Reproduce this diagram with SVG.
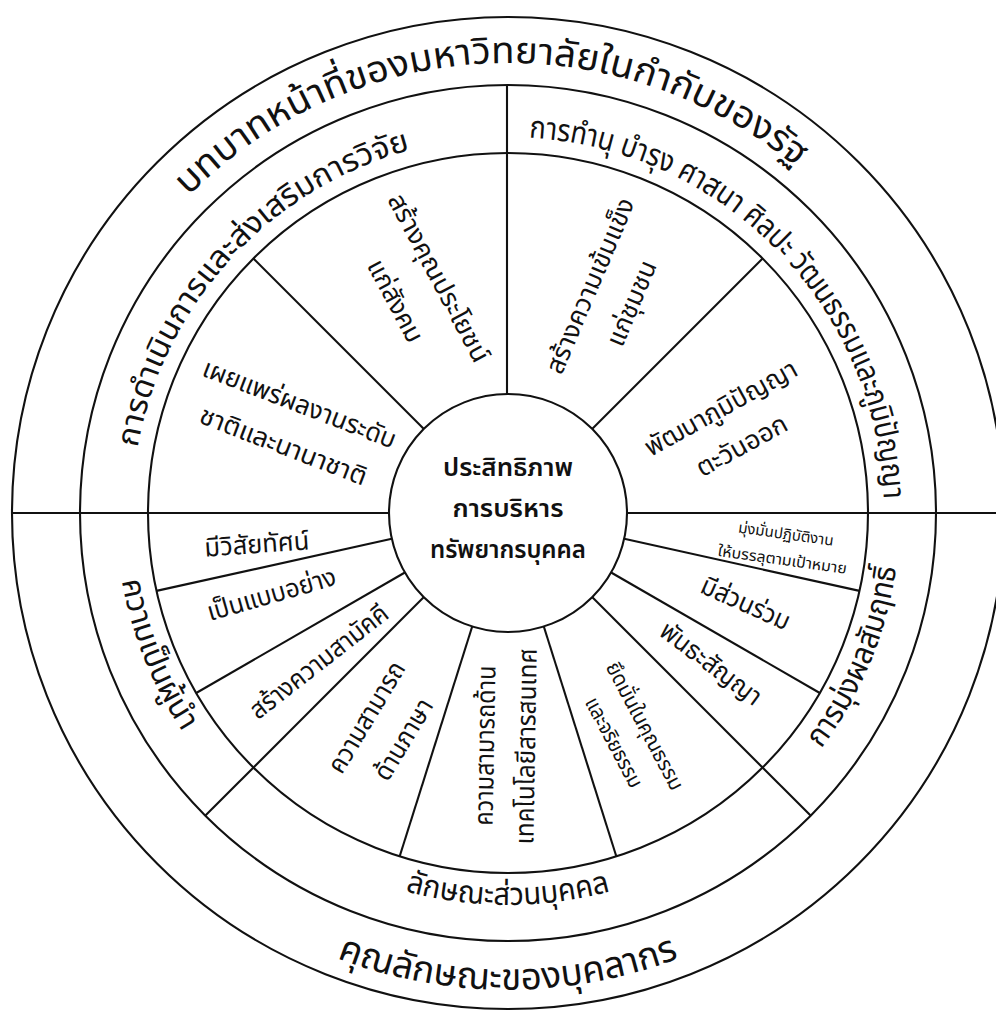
<svg xmlns="http://www.w3.org/2000/svg" width="996" height="1012" viewBox="0 0 996 1012">
<defs>
<style>
.ln{stroke:#111;stroke-width:2.1;fill:none}
text{font-family:'Noto Sans Thai','Noto Sans Thai UI','Noto Sans','DejaVu Sans',sans-serif;fill:#111}
.band1{font-size:37px;font-weight:370}
.band2{font-size:31px;font-weight:370}
.sec{font-size:26px;text-anchor:middle}
.small{font-size:15px;text-anchor:middle}
.mid{font-size:25px;font-weight:600;text-anchor:middle}
</style>
<path id="pOuterTop" d="M 58 513 A 450 450 0 0 1 958 513"/>
<path id="pOuterBot" d="M 31 513 A 477 477 0 0 0 985 513"/>
<path id="pMidTop" d="M 132 513 A 376 376 0 0 1 884 513"/>
<path id="pMidBot" d="M 116 513 A 392 392 0 0 0 900 513"/>
</defs>
<rect width="996" height="1012" fill="#fff"/>
<g id="rings">
<circle class="ln" cx="508" cy="513" r="496"/>
<circle class="ln" cx="508" cy="513" r="428"/>
<circle class="ln" cx="508" cy="513" r="360"/>
</g>
<g id="connectors">
<line class="ln" x1="507" y1="394" x2="507" y2="85"/>
<line class="ln" x1="12" y1="513" x2="389" y2="513"/>
<line class="ln" x1="627" y1="513" x2="1004" y2="513"/>
<line class="ln" x1="423.9" y1="428.9" x2="253.4" y2="258.4"/>
<line class="ln" x1="592.1" y1="428.9" x2="762.6" y2="258.4"/>
<line class="ln" x1="624.2" y1="538.8" x2="859.5" y2="590.9"/>
<line class="ln" x1="611.1" y1="572.5" x2="819.8" y2="693"/>
<line class="ln" x1="592.1" y1="597.1" x2="810.6" y2="815.6"/>
<line class="ln" x1="543.8" y1="626.5" x2="616.3" y2="856.3"/>
<line class="ln" x1="472.2" y1="626.5" x2="399.7" y2="856.3"/>
<line class="ln" x1="423.9" y1="597.1" x2="205.4" y2="815.6"/>
<line class="ln" x1="404.9" y1="572.5" x2="196.2" y2="693"/>
<line class="ln" x1="391.8" y1="538.8" x2="156.5" y2="590.9"/>
</g>
<g id="band-outer-top"><text class="band1"><textPath href="#pOuterTop" startOffset="48.5%" text-anchor="middle" textLength="668" lengthAdjust="spacingAndGlyphs">บทบาทหน้าที่ของมหาวิทยาลัยในกำกับของรัฐ</textPath></text></g>
<g id="band-outer-bottom"><text class="band1"><textPath href="#pOuterBot" startOffset="50%" text-anchor="middle" textLength="350" lengthAdjust="spacingAndGlyphs">คุณลักษณะของบุคลากร</textPath></text></g>
<g id="band-research"><text class="band2"><textPath href="#pMidTop" startOffset="23.6%" text-anchor="middle" textLength="426" lengthAdjust="spacingAndGlyphs">การดำเนินการและส่งเสริมการวิจัย</textPath></text></g>
<g id="band-culture"><text class="band2"><textPath href="#pMidTop" startOffset="75.3%" text-anchor="middle" textLength="555" lengthAdjust="spacingAndGlyphs">การทำนุ บำรุง ศาสนา ศิลปะ วัฒนธรรมและภูมิปัญญา</textPath></text></g>
<g id="band-leadership"><text class="band2"><textPath href="#pMidBot" startOffset="12.2%" text-anchor="middle" textLength="164" lengthAdjust="spacingAndGlyphs">ความเป็นผู้นำ</textPath></text></g>
<g id="band-personal"><text class="band2"><textPath href="#pMidBot" startOffset="50%" text-anchor="middle" textLength="208" lengthAdjust="spacingAndGlyphs">ลักษณะส่วนบุคคล</textPath></text></g>
<g id="band-achievement"><text class="band2"><textPath href="#pMidBot" startOffset="87.5%" text-anchor="middle" textLength="198" lengthAdjust="spacingAndGlyphs">การมุ่งผลสัมฤทธิ์</textPath></text></g>
<g id="center">
<circle class="ln" cx="508" cy="513" r="119"/>
<text class="mid" x="508" y="476" textLength="130" lengthAdjust="spacingAndGlyphs">ประสิทธิภาพ</text>
<text class="mid" x="508" y="517" textLength="111" lengthAdjust="spacingAndGlyphs">การบริหาร</text>
<text class="mid" x="508" y="558" textLength="156" lengthAdjust="spacingAndGlyphs">ทรัพยากรบุคคล</text>
</g>
<g id="s-publish" transform="translate(291,426) rotate(21)">
<text class="sec" x="0" y="-15" textLength="205" lengthAdjust="spacingAndGlyphs">เผยแพร่ผลงานระดับ</text>
<text class="sec" x="0" y="30" textLength="177" lengthAdjust="spacingAndGlyphs">ชาติและนานาชาติ</text>
</g>
<g id="s-benefit" transform="translate(416,290) rotate(62)">
<text class="sec" x="0" y="-17" textLength="187" lengthAdjust="spacingAndGlyphs">สร้างคุณประโยชน์</text>
<text class="sec" x="0" y="32" textLength="90" lengthAdjust="spacingAndGlyphs">แก่สังคม</text>
</g>
<g id="s-community" transform="translate(612,295) rotate(-67)">
<text class="sec" x="0" y="-15" textLength="188" lengthAdjust="spacingAndGlyphs">สร้างความเข้มแข็ง</text>
<text class="sec" x="0" y="30" textLength="90" lengthAdjust="spacingAndGlyphs">แก่ชุมชน</text>
</g>
<g id="s-wisdom" transform="translate(732,428) rotate(-29)">
<text class="sec" x="0" y="-14" textLength="170" lengthAdjust="spacingAndGlyphs">พัฒนาภูมิปัญญา</text>
<text class="sec" x="0" y="29" textLength="100" lengthAdjust="spacingAndGlyphs">ตะวันออก</text>
</g>
<g id="s-vision" transform="translate(257,546) rotate(-4)">
<text class="sec" x="0" y="7" textLength="105" lengthAdjust="spacingAndGlyphs">มีวิสัยทัศน์</text>
</g>
<g id="s-model" transform="translate(272,596) rotate(-16)">
<text class="sec" x="0" y="7" textLength="133" lengthAdjust="spacingAndGlyphs">เป็นแบบอย่าง</text>
</g>
<g id="s-unity" transform="translate(320,663) rotate(-38)">
<text class="sec" x="0" y="7" textLength="168" lengthAdjust="spacingAndGlyphs">สร้างความสามัคคี</text>
</g>
<g id="s-language" transform="translate(386,729) rotate(-59)">
<text class="sec" x="0" y="-14" textLength="125" lengthAdjust="spacingAndGlyphs">ความสามารถ</text>
<text class="sec" x="0" y="29" textLength="90" lengthAdjust="spacingAndGlyphs">ด้านภาษา</text>
</g>
<g id="s-it" transform="translate(507,746) rotate(-89)">
<text class="sec" x="0" y="-13" textLength="160" lengthAdjust="spacingAndGlyphs">ความสามารถด้าน</text>
<text class="sec" x="0" y="28" textLength="196" lengthAdjust="spacingAndGlyphs">เทคโนโลยีสารสนเทศ</text>
</g>
<g id="s-ethics" transform="translate(628,735) rotate(62)">
<text style="font-size:21px;text-anchor:middle" x="0" y="-12" textLength="142" lengthAdjust="spacingAndGlyphs">ยึดมั่นในคุณธรรม</text>
<text style="font-size:21px;text-anchor:middle" x="0" y="23" textLength="99" lengthAdjust="spacingAndGlyphs">และจริยธรรม</text>
</g>
<g id="s-commitment" transform="translate(710,665) rotate(37)">
<text class="sec" x="0" y="7" textLength="120" lengthAdjust="spacingAndGlyphs">พันธะสัญญา</text>
</g>
<g id="s-participation" transform="translate(745,605) rotate(24)">
<text class="sec" x="0" y="7" textLength="95" lengthAdjust="spacingAndGlyphs">มีส่วนร่วม</text>
</g>
<g id="s-goal" transform="translate(784,548) rotate(8)">
<text class="small" x="0" y="-9" textLength="96" lengthAdjust="spacingAndGlyphs">มุ่งมั่นปฏิบัติงาน</text>
<text class="small" x="0" y="17" textLength="130" lengthAdjust="spacingAndGlyphs">ให้บรรลุตามเป้าหมาย</text>
</g>
</svg>
